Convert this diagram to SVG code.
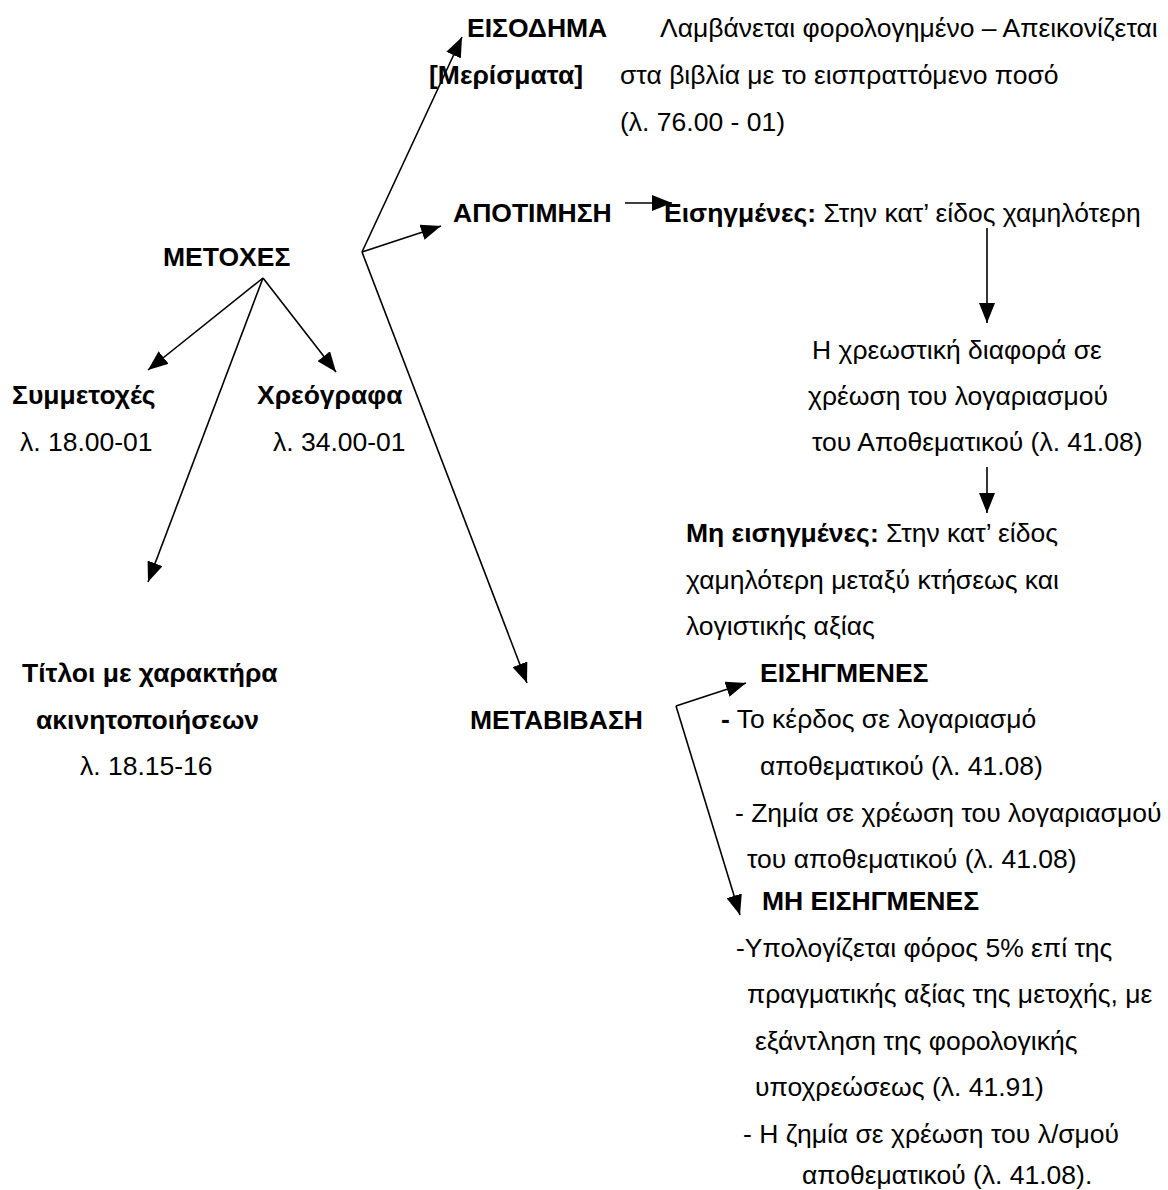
<svg xmlns="http://www.w3.org/2000/svg" width="1168" height="1190" viewBox="0 0 1168 1190">
<style>
text{font-family:"Liberation Sans",Arial,sans-serif;font-size:26.5px;fill:#000}
.b{font-weight:bold}
.c line{stroke:#000;stroke-width:1.6;fill:none}
.a{marker-end:url(#ah)}
</style>
<defs>
<marker id="ah" markerUnits="userSpaceOnUse" markerWidth="21" markerHeight="16" refX="20" refY="8" orient="auto" viewBox="0 0 21 16">
<path d="M0,0 L20,8 L0,16 Z" fill="#000"/>
</marker>
</defs>
<rect width="1168" height="1190" fill="#fff"/>
<g class="c" id="connectors">
<line class="a" x1="263" y1="278" x2="148" y2="370"/>
<line class="a" x1="263" y1="278" x2="336" y2="372"/>
<line class="a" x1="263" y1="278" x2="148" y2="582"/>
<line class="a" x1="362" y1="252" x2="462" y2="37"/>
<line class="a" x1="362" y1="252" x2="441" y2="226"/>
<line class="a" x1="362" y1="252" x2="527" y2="683"/>
<line class="a" x1="625" y1="203" x2="672" y2="203"/>
<line class="a" x1="987" y1="228" x2="987" y2="323"/>
<line class="a" x1="987" y1="467" x2="987" y2="513"/>
<line class="a" x1="676" y1="706" x2="746" y2="683"/>
<line class="a" x1="676" y1="706" x2="740" y2="915"/>
</g>
<g id="metoxes"><text class="b" x="163" y="266">ΜΕΤΟΧΕΣ</text></g>
<g id="symmetoxes"><text class="b" x="12" y="404">Συμμετοχές</text><text x="20" y="451">λ. 18.00-01</text></g>
<g id="xreografa"><text class="b" x="257" y="404">Χρεόγραφα</text><text x="273" y="451">λ. 34.00-01</text></g>
<g id="titloi"><text class="b" x="22" y="682">Τίτλοι με χαρακτήρα</text><text class="b" x="36" y="729">ακινητοποιήσεων</text><text x="80" y="775">λ. 18.15-16</text></g>
<g id="eisodima"><text class="b" x="467" y="37">ΕΙΣΟΔΗΜΑ</text><text class="b" x="429" y="84">[Μερίσματα]</text></g>
<g id="eisodima-note"><text x="660" y="37">Λαμβάνεται φορολογημένο – Απεικονίζεται</text><text x="620" y="84">στα βιβλία με το εισπραττόμενο ποσό</text><text x="620" y="131">(λ. 76.00 - 01)</text></g>
<g id="apotimisi"><text class="b" x="453" y="222">ΑΠΟΤΙΜΗΣΗ</text></g>
<g id="eisigmenes"><text x="664" y="222"><tspan class="b">Εισηγμένες:</tspan> Στην κατ’ είδος χαμηλότερη</text></g>
<g id="xreostiki"><text x="812" y="359">Η χρεωστική διαφορά σε</text><text x="808" y="405">χρέωση του λογαριασμού</text><text x="812" y="451">του Αποθεματικού (λ. 41.08)</text></g>
<g id="mi-eisigmenes"><text x="686" y="542"><tspan class="b">Μη εισηγμένες:</tspan> Στην κατ’ είδος</text><text x="686" y="589">χαμηλότερη μεταξύ κτήσεως και</text><text x="686" y="635">λογιστικής αξίας</text></g>
<g id="metavivasi"><text class="b" x="470" y="729">ΜΕΤΑΒΙΒΑΣΗ</text></g>
<g id="eisigmenes-2"><text class="b" x="760" y="682">ΕΙΣΗΓΜΕΝΕΣ</text><text x="721" y="728"><tspan class="b">-</tspan> Το κέρδος σε λογαριασμό</text><text x="760" y="775">αποθεματικού (λ. 41.08)</text><text x="735" y="822">- Ζημία σε χρέωση του λογαριασμού</text><text x="747" y="868">του αποθεματικού (λ. 41.08)</text></g>
<g id="mi-eisigmenes-2"><text class="b" x="762" y="910">ΜΗ ΕΙΣΗΓΜΕΝΕΣ</text><text x="736" y="957">-Υπολογίζεται φόρος 5% επί της</text><text x="747" y="1003">πραγματικής αξίας της μετοχής, με</text><text x="755" y="1050">εξάντληση της φορολογικής</text><text x="755" y="1096">υποχρεώσεως (λ. 41.91)</text><text x="743" y="1143">- Η ζημία σε χρέωση του λ/σμού</text><text x="802" y="1184">αποθεματικού (λ. 41.08).</text></g>
</svg>
